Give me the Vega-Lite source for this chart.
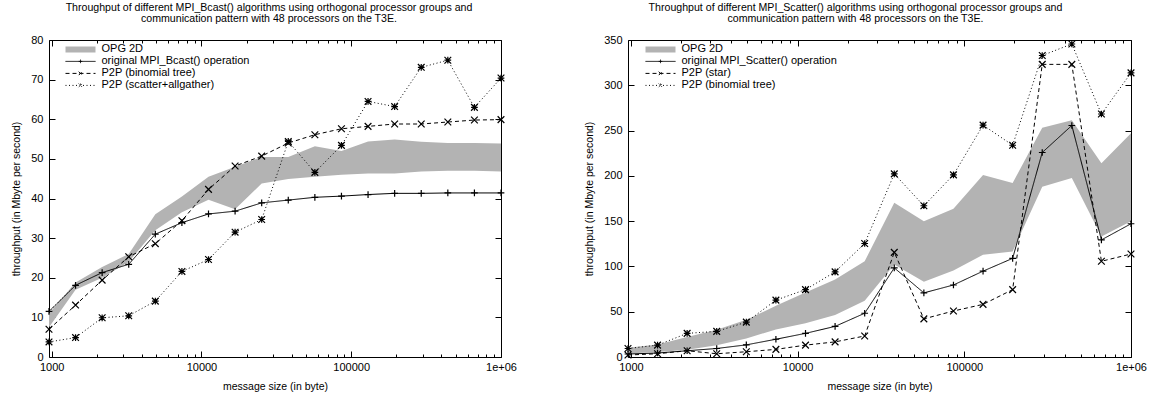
{
  "$schema": "https://vega.github.io/schema/vega-lite/v6.json",
  "padding": {"left": 11, "top": 2, "right": 0, "bottom": 0},
  "bounds": "flush",
  "spacing": 127,
  "background": "white",
  "config": {
    "font": "Liberation Sans",
    "view": {"stroke": "#000", "strokeWidth": 1},
    "axis": {"domain": false, "grid": false, "labelFont": "Liberation Sans", "labelFontSize": 11, "labelColor": "#000", "titleFont": "Liberation Sans", "titleFontSize": 10.5, "titleFontWeight": "normal", "titleColor": "#000", "tickColor": "#000", "tickWidth": 1},
    "title": {"font": "Liberation Sans", "fontSize": 10.6, "fontWeight": "normal", "color": "#000", "anchor": "middle", "offset": 9, "lineHeight": 11.5}
  },
  "resolve": {"scale": {"color": "independent", "strokeDash": "independent", "shape": "independent"}, "legend": {"color": "independent"}},
  "hconcat": [
    {
      "width": 452,
      "height": 317,
      "title": {"text": ["Throughput of different MPI_Bcast() algorithms using orthogonal processor groups and", "communication pattern with 48 processors on the T3E."], "dx": -6},
      "resolve": {"axis": {"x": "independent", "y": "independent"}},
      "layer": [
        {
          "data": {"values": [
            {"x": 960, "s": "OPG 2D", "y": 7.5, "y2": 11.0},
            {"x": 1444, "s": "OPG 2D", "y": 17.0, "y2": 18.8},
            {"x": 2173, "s": "OPG 2D", "y": 20.0, "y2": 22.7},
            {"x": 3270, "s": "OPG 2D", "y": 24.0, "y2": 26.0},
            {"x": 4922, "s": "OPG 2D", "y": 32.0, "y2": 36.0},
            {"x": 7407, "s": "OPG 2D", "y": 36.5, "y2": 40.5},
            {"x": 11148, "s": "OPG 2D", "y": 39.7, "y2": 45.5},
            {"x": 16776, "s": "OPG 2D", "y": 37.3, "y2": 48.0},
            {"x": 25249, "s": "OPG 2D", "y": 43.8, "y2": 50.5},
            {"x": 37998, "s": "OPG 2D", "y": 44.9, "y2": 50.5},
            {"x": 57189, "s": "OPG 2D", "y": 45.5, "y2": 53.2},
            {"x": 86067, "s": "OPG 2D", "y": 46.0, "y2": 52.0},
            {"x": 129540, "s": "OPG 2D", "y": 46.3, "y2": 54.4},
            {"x": 194950, "s": "OPG 2D", "y": 46.3, "y2": 54.9},
            {"x": 293400, "s": "OPG 2D", "y": 46.8, "y2": 54.3},
            {"x": 441570, "s": "OPG 2D", "y": 47.0, "y2": 54.0},
            {"x": 664540, "s": "OPG 2D", "y": 47.0, "y2": 54.0},
            {"x": 1000000, "s": "OPG 2D", "y": 46.8, "y2": 53.9}
          ]},
          "mark": {"type": "area"},
          "encoding": {
            "x": {"field": "x", "type": "quantitative", "scale": {"type": "log", "domain": [960, 1000000], "nice": false},
              "axis": {"title": "message size (in byte)", "orient": "bottom", "values": [1000,2000,3000,4000,5000,6000,7000,8000,9000,10000,20000,30000,40000,50000,60000,70000,80000,90000,100000,200000,300000,400000,500000,600000,700000,800000,900000,1000000],
                "labelExpr": "datum.value == 1000000 ? '1e+06' : (datum.value == 1000 || datum.value == 10000 || datum.value == 100000) ? format(datum.value, 'd') : ''",
                "tickSize": {"condition": {"test": "datum.value == 1000 || datum.value == 10000 || datum.value == 100000 || datum.value == 1000000", "value": -6}, "value": -3},
                "labelPadding": 10, "titlePadding": 9, "labelFlush": false}},
            "y": {"field": "y", "type": "quantitative", "scale": {"domain": [0, 80], "nice": false}, "axis": {"title": "throughput (in Mbyte per second)", "orient": "left", "values": [0,10,20,30,40,50,60,70,80], "tickSize": -6, "labelPadding": 12, "titlePadding": 9}},
            "y2": {"field": "y2"},
            "color": {"field": "s", "type": "nominal",
              "scale": {"domain": ["OPG 2D", "original MPI_Bcast() operation", "P2P (binomial tree)", "P2P (scatter+allgather)"], "range": ["#b3b3b3", "#000000", "#000000", "#000000"]},
              "legend": {"title": null, "orient": "none", "legendX": 16, "legendY": 4, "padding": 0, "symbolSize": 900, "clipHeight": 10.8, "rowPadding": 0, "labelOffset": 5.5, "labelFontSize": 11, "labelFont": "Liberation Sans", "labelColor": "#000", "labelLimit": 300,
                "encode": {"symbols": {"update": {
                  "shape": {"signal": "datum.index === 0 ? 'M-1,-0.2H1V0.2H-1Z' : datum.index === 1 ? 'M-1,0H1M0,-0.117V0.117M-0.117,0H0.117' : datum.index === 2 ? 'M-1,0H1M-0.117,-0.117L0.117,0.117M-0.117,0.117L0.117,-0.117' : 'M-1,0H1M0,-0.117V0.117M-0.117,-0.117L0.117,0.117M-0.117,0.117L0.117,-0.117'"},
                  "fill": {"signal": "datum.index === 0 ? '#b3b3b3' : 'transparent'"},
                  "stroke": {"signal": "datum.index === 0 ? 'transparent' : '#000000'"},
                  "strokeDash": {"signal": "datum.index === 2 ? [4,3] : datum.index === 3 ? [1,2.5] : [1,0]"},
                  "strokeWidth": {"value": 1},
                  "size": {"value": 900},
                  "opacity": {"value": 1}
                }}}}
            }
          }
        },
        {
          "data": {"values": [
            {"x": 960, "s": "original MPI_Bcast() operation", "y": 11.5},
            {"x": 1444, "s": "original MPI_Bcast() operation", "y": 18.1},
            {"x": 2173, "s": "original MPI_Bcast() operation", "y": 21.3},
            {"x": 3270, "s": "original MPI_Bcast() operation", "y": 23.4},
            {"x": 4922, "s": "original MPI_Bcast() operation", "y": 31.0},
            {"x": 7407, "s": "original MPI_Bcast() operation", "y": 33.9},
            {"x": 11148, "s": "original MPI_Bcast() operation", "y": 36.1},
            {"x": 16776, "s": "original MPI_Bcast() operation", "y": 36.8},
            {"x": 25249, "s": "original MPI_Bcast() operation", "y": 38.9},
            {"x": 37998, "s": "original MPI_Bcast() operation", "y": 39.6},
            {"x": 57189, "s": "original MPI_Bcast() operation", "y": 40.3},
            {"x": 86067, "s": "original MPI_Bcast() operation", "y": 40.6},
            {"x": 129540, "s": "original MPI_Bcast() operation", "y": 41.0},
            {"x": 194950, "s": "original MPI_Bcast() operation", "y": 41.3},
            {"x": 293400, "s": "original MPI_Bcast() operation", "y": 41.3},
            {"x": 441570, "s": "original MPI_Bcast() operation", "y": 41.4},
            {"x": 664540, "s": "original MPI_Bcast() operation", "y": 41.4},
            {"x": 1000000, "s": "original MPI_Bcast() operation", "y": 41.4},
            {"x": 960, "s": "P2P (binomial tree)", "y": 7.0},
            {"x": 1444, "s": "P2P (binomial tree)", "y": 13.1},
            {"x": 2173, "s": "P2P (binomial tree)", "y": 19.4},
            {"x": 3270, "s": "P2P (binomial tree)", "y": 25.3},
            {"x": 4922, "s": "P2P (binomial tree)", "y": 28.6},
            {"x": 7407, "s": "P2P (binomial tree)", "y": 34.4},
            {"x": 11148, "s": "P2P (binomial tree)", "y": 42.3},
            {"x": 16776, "s": "P2P (binomial tree)", "y": 48.2},
            {"x": 25249, "s": "P2P (binomial tree)", "y": 50.7},
            {"x": 37998, "s": "P2P (binomial tree)", "y": 54.0},
            {"x": 57189, "s": "P2P (binomial tree)", "y": 56.1},
            {"x": 86067, "s": "P2P (binomial tree)", "y": 57.6},
            {"x": 129540, "s": "P2P (binomial tree)", "y": 58.2},
            {"x": 194950, "s": "P2P (binomial tree)", "y": 58.8},
            {"x": 293400, "s": "P2P (binomial tree)", "y": 58.8},
            {"x": 441570, "s": "P2P (binomial tree)", "y": 59.3},
            {"x": 664540, "s": "P2P (binomial tree)", "y": 59.8},
            {"x": 1000000, "s": "P2P (binomial tree)", "y": 59.9},
            {"x": 960, "s": "P2P (scatter+allgather)", "y": 3.8},
            {"x": 1444, "s": "P2P (scatter+allgather)", "y": 4.9},
            {"x": 2173, "s": "P2P (scatter+allgather)", "y": 9.9},
            {"x": 3270, "s": "P2P (scatter+allgather)", "y": 10.4},
            {"x": 4922, "s": "P2P (scatter+allgather)", "y": 14.1},
            {"x": 7407, "s": "P2P (scatter+allgather)", "y": 21.6},
            {"x": 11148, "s": "P2P (scatter+allgather)", "y": 24.6},
            {"x": 16776, "s": "P2P (scatter+allgather)", "y": 31.5},
            {"x": 25249, "s": "P2P (scatter+allgather)", "y": 34.7},
            {"x": 37998, "s": "P2P (scatter+allgather)", "y": 54.4},
            {"x": 57189, "s": "P2P (scatter+allgather)", "y": 46.6},
            {"x": 86067, "s": "P2P (scatter+allgather)", "y": 53.4},
            {"x": 129540, "s": "P2P (scatter+allgather)", "y": 64.5},
            {"x": 194950, "s": "P2P (scatter+allgather)", "y": 63.2},
            {"x": 293400, "s": "P2P (scatter+allgather)", "y": 73.1},
            {"x": 441570, "s": "P2P (scatter+allgather)", "y": 74.9},
            {"x": 664540, "s": "P2P (scatter+allgather)", "y": 63.0},
            {"x": 1000000, "s": "P2P (scatter+allgather)", "y": 70.4}
          ]},
          "encoding": {
            "x": {"field": "x", "type": "quantitative", "scale": {"type": "log", "domain": [960, 1000000], "nice": false},
              "axis": {"title": null, "orient": "top", "labels": false, "values": [1000,2000,3000,4000,5000,6000,7000,8000,9000,10000,20000,30000,40000,50000,60000,70000,80000,90000,100000,200000,300000,400000,500000,600000,700000,800000,900000,1000000],
                "tickSize": {"condition": {"test": "datum.value == 1000 || datum.value == 10000 || datum.value == 100000 || datum.value == 1000000", "value": -6}, "value": -3}}},
            "y": {"field": "y", "type": "quantitative", "scale": {"domain": [0, 80], "nice": false}, "axis": {"title": null, "orient": "right", "labels": false, "values": [0,10,20,30,40,50,60,70,80], "tickSize": -6}}
          },
          "layer": [
            {
              "mark": {"type": "line", "color": "#000", "strokeWidth": 1},
              "encoding": {
                "strokeDash": {"field": "s", "type": "nominal", "scale": {"domain": ["original MPI_Bcast() operation", "P2P (binomial tree)", "P2P (scatter+allgather)"], "range": [[1, 0], [4, 3], [1, 2.5]]}, "legend": null}
              }
            },
            {
              "mark": {"type": "point", "filled": false, "color": "#000", "strokeWidth": 1.2, "size": 45, "opacity": 1},
              "encoding": {
                "shape": {"field": "s", "type": "nominal", "scale": {"domain": ["original MPI_Bcast() operation", "P2P (binomial tree)", "P2P (scatter+allgather)"], "range": ["M-1,0H1M0,-1V1", "M-1,-1L1,1M-1,1L1,-1", "M-1,0H1M0,-1V1M-1,-1L1,1M-1,1L1,-1"]}, "legend": null}
              }
            }
          ]
        }
      ]
    },
    {
      "width": 503,
      "height": 317,
      "title": {"text": ["Throughput of different MPI_Scatter() algorithms using orthogonal processor groups and", "communication pattern with 48 processors on the T3E."], "dx": -24},
      "resolve": {"axis": {"x": "independent", "y": "independent"}},
      "layer": [
        {
          "data": {"values": [
            {"x": 960, "s": "OPG 2D", "y": 4.0, "y2": 10.2},
            {"x": 1444, "s": "OPG 2D", "y": 5.5, "y2": 13.8},
            {"x": 2173, "s": "OPG 2D", "y": 8.0, "y2": 22.0},
            {"x": 3270, "s": "OPG 2D", "y": 13.0, "y2": 30.0},
            {"x": 4922, "s": "OPG 2D", "y": 20.3, "y2": 41.0},
            {"x": 7407, "s": "OPG 2D", "y": 30.5, "y2": 56.6},
            {"x": 11148, "s": "OPG 2D", "y": 37.4, "y2": 71.2},
            {"x": 16776, "s": "OPG 2D", "y": 46.5, "y2": 85.7},
            {"x": 25249, "s": "OPG 2D", "y": 62.0, "y2": 105.7},
            {"x": 37998, "s": "OPG 2D", "y": 102.0, "y2": 170.3},
            {"x": 57189, "s": "OPG 2D", "y": 83.0, "y2": 150.0},
            {"x": 86067, "s": "OPG 2D", "y": 95.5, "y2": 163.8},
            {"x": 129540, "s": "OPG 2D", "y": 113.0, "y2": 201.0},
            {"x": 194950, "s": "OPG 2D", "y": 116.6, "y2": 192.0},
            {"x": 293400, "s": "OPG 2D", "y": 188.0, "y2": 253.0},
            {"x": 441570, "s": "OPG 2D", "y": 197.5, "y2": 261.4},
            {"x": 664540, "s": "OPG 2D", "y": 133.0, "y2": 214.0},
            {"x": 1000000, "s": "OPG 2D", "y": 150.0, "y2": 247.0}
          ]},
          "mark": {"type": "area"},
          "encoding": {
            "x": {"field": "x", "type": "quantitative", "scale": {"type": "log", "domain": [960, 1000000], "nice": false},
              "axis": {"title": "message size (in byte)", "orient": "bottom", "values": [1000,2000,3000,4000,5000,6000,7000,8000,9000,10000,20000,30000,40000,50000,60000,70000,80000,90000,100000,200000,300000,400000,500000,600000,700000,800000,900000,1000000],
                "labelExpr": "datum.value == 1000000 ? '1e+06' : (datum.value == 1000 || datum.value == 10000 || datum.value == 100000) ? format(datum.value, 'd') : ''",
                "tickSize": {"condition": {"test": "datum.value == 1000 || datum.value == 10000 || datum.value == 100000 || datum.value == 1000000", "value": -6}, "value": -3},
                "labelPadding": 10, "titlePadding": 9, "labelFlush": false}},
            "y": {"field": "y", "type": "quantitative", "scale": {"domain": [0, 350], "nice": false}, "axis": {"title": "throughput (in Mbyte per second)", "orient": "left", "values": [0,50,100,150,200,250,300,350], "tickSize": -6, "labelPadding": 12, "titlePadding": 9}},
            "y2": {"field": "y2"},
            "color": {"field": "s", "type": "nominal",
              "scale": {"domain": ["OPG 2D", "original MPI_Scatter() operation", "P2P (star)", "P2P (binomial tree)"], "range": ["#b3b3b3", "#000000", "#000000", "#000000"]},
              "legend": {"title": null, "orient": "none", "legendX": 17, "legendY": 4, "padding": 0, "symbolSize": 900, "clipHeight": 10.8, "rowPadding": 0, "labelOffset": 5.5, "labelFontSize": 11, "labelFont": "Liberation Sans", "labelColor": "#000", "labelLimit": 300,
                "encode": {"symbols": {"update": {
                  "shape": {"signal": "datum.index === 0 ? 'M-1,-0.2H1V0.2H-1Z' : datum.index === 1 ? 'M-1,0H1M0,-0.117V0.117M-0.117,0H0.117' : datum.index === 2 ? 'M-1,0H1M-0.117,-0.117L0.117,0.117M-0.117,0.117L0.117,-0.117' : 'M-1,0H1M0,-0.117V0.117M-0.117,-0.117L0.117,0.117M-0.117,0.117L0.117,-0.117'"},
                  "fill": {"signal": "datum.index === 0 ? '#b3b3b3' : 'transparent'"},
                  "stroke": {"signal": "datum.index === 0 ? 'transparent' : '#000000'"},
                  "strokeDash": {"signal": "datum.index === 2 ? [4,3] : datum.index === 3 ? [1,2.5] : [1,0]"},
                  "strokeWidth": {"value": 1},
                  "size": {"value": 900},
                  "opacity": {"value": 1}
                }}}}
            }
          }
        },
        {
          "data": {"values": [
            {"x": 960, "s": "original MPI_Scatter() operation", "y": 3.3},
            {"x": 1444, "s": "original MPI_Scatter() operation", "y": 4.4},
            {"x": 2173, "s": "original MPI_Scatter() operation", "y": 6.9},
            {"x": 3270, "s": "original MPI_Scatter() operation", "y": 9.4},
            {"x": 4922, "s": "original MPI_Scatter() operation", "y": 13.4},
            {"x": 7407, "s": "original MPI_Scatter() operation", "y": 19.6},
            {"x": 11148, "s": "original MPI_Scatter() operation", "y": 26.1},
            {"x": 16776, "s": "original MPI_Scatter() operation", "y": 33.8},
            {"x": 25249, "s": "original MPI_Scatter() operation", "y": 48.3},
            {"x": 37998, "s": "original MPI_Scatter() operation", "y": 98.4},
            {"x": 57189, "s": "original MPI_Scatter() operation", "y": 70.8},
            {"x": 86067, "s": "original MPI_Scatter() operation", "y": 79.5},
            {"x": 129540, "s": "original MPI_Scatter() operation", "y": 94.8},
            {"x": 194950, "s": "original MPI_Scatter() operation", "y": 108.9},
            {"x": 293400, "s": "original MPI_Scatter() operation", "y": 225.8},
            {"x": 441570, "s": "original MPI_Scatter() operation", "y": 255.6},
            {"x": 664540, "s": "original MPI_Scatter() operation", "y": 129.3},
            {"x": 1000000, "s": "original MPI_Scatter() operation", "y": 147.1},
            {"x": 960, "s": "P2P (star)", "y": 2.2},
            {"x": 1444, "s": "P2P (star)", "y": 3.6},
            {"x": 2173, "s": "P2P (star)", "y": 6.9},
            {"x": 3270, "s": "P2P (star)", "y": 3.6},
            {"x": 4922, "s": "P2P (star)", "y": 5.8},
            {"x": 7407, "s": "P2P (star)", "y": 8.4},
            {"x": 11148, "s": "P2P (star)", "y": 13.1},
            {"x": 16776, "s": "P2P (star)", "y": 16.7},
            {"x": 25249, "s": "P2P (star)", "y": 23.2},
            {"x": 37998, "s": "P2P (star)", "y": 115.5},
            {"x": 57189, "s": "P2P (star)", "y": 42.1},
            {"x": 86067, "s": "P2P (star)", "y": 50.8},
            {"x": 129540, "s": "P2P (star)", "y": 58.1},
            {"x": 194950, "s": "P2P (star)", "y": 74.4},
            {"x": 293400, "s": "P2P (star)", "y": 323.1},
            {"x": 441570, "s": "P2P (star)", "y": 323.1},
            {"x": 664540, "s": "P2P (star)", "y": 105.7},
            {"x": 1000000, "s": "P2P (star)", "y": 113.7},
            {"x": 960, "s": "P2P (binomial tree)", "y": 9.4},
            {"x": 1444, "s": "P2P (binomial tree)", "y": 13.1},
            {"x": 2173, "s": "P2P (binomial tree)", "y": 26.1},
            {"x": 3270, "s": "P2P (binomial tree)", "y": 28.3},
            {"x": 4922, "s": "P2P (binomial tree)", "y": 38.5},
            {"x": 7407, "s": "P2P (binomial tree)", "y": 62.8},
            {"x": 11148, "s": "P2P (binomial tree)", "y": 74.4},
            {"x": 16776, "s": "P2P (binomial tree)", "y": 94.0},
            {"x": 25249, "s": "P2P (binomial tree)", "y": 125.3},
            {"x": 37998, "s": "P2P (binomial tree)", "y": 202.2},
            {"x": 57189, "s": "P2P (binomial tree)", "y": 167.0},
            {"x": 86067, "s": "P2P (binomial tree)", "y": 201.1},
            {"x": 129540, "s": "P2P (binomial tree)", "y": 256.0},
            {"x": 194950, "s": "P2P (binomial tree)", "y": 233.8},
            {"x": 293400, "s": "P2P (binomial tree)", "y": 332.9},
            {"x": 441570, "s": "P2P (binomial tree)", "y": 345.6},
            {"x": 664540, "s": "P2P (binomial tree)", "y": 268.3},
            {"x": 1000000, "s": "P2P (binomial tree)", "y": 313.7}
          ]},
          "encoding": {
            "x": {"field": "x", "type": "quantitative", "scale": {"type": "log", "domain": [960, 1000000], "nice": false},
              "axis": {"title": null, "orient": "top", "labels": false, "values": [1000,2000,3000,4000,5000,6000,7000,8000,9000,10000,20000,30000,40000,50000,60000,70000,80000,90000,100000,200000,300000,400000,500000,600000,700000,800000,900000,1000000],
                "tickSize": {"condition": {"test": "datum.value == 1000 || datum.value == 10000 || datum.value == 100000 || datum.value == 1000000", "value": -6}, "value": -3}}},
            "y": {"field": "y", "type": "quantitative", "scale": {"domain": [0, 350], "nice": false}, "axis": {"title": null, "orient": "right", "labels": false, "values": [0,50,100,150,200,250,300,350], "tickSize": -6}}
          },
          "layer": [
            {
              "mark": {"type": "line", "color": "#000", "strokeWidth": 1},
              "encoding": {
                "strokeDash": {"field": "s", "type": "nominal", "scale": {"domain": ["original MPI_Scatter() operation", "P2P (star)", "P2P (binomial tree)"], "range": [[1, 0], [4, 3], [1, 2.5]]}, "legend": null}
              }
            },
            {
              "mark": {"type": "point", "filled": false, "color": "#000", "strokeWidth": 1.2, "size": 45, "opacity": 1},
              "encoding": {
                "shape": {"field": "s", "type": "nominal", "scale": {"domain": ["original MPI_Scatter() operation", "P2P (star)", "P2P (binomial tree)"], "range": ["M-1,0H1M0,-1V1", "M-1,-1L1,1M-1,1L1,-1", "M-1,0H1M0,-1V1M-1,-1L1,1M-1,1L1,-1"]}, "legend": null}
              }
            }
          ]
        }
      ]
    }
  ]
}
